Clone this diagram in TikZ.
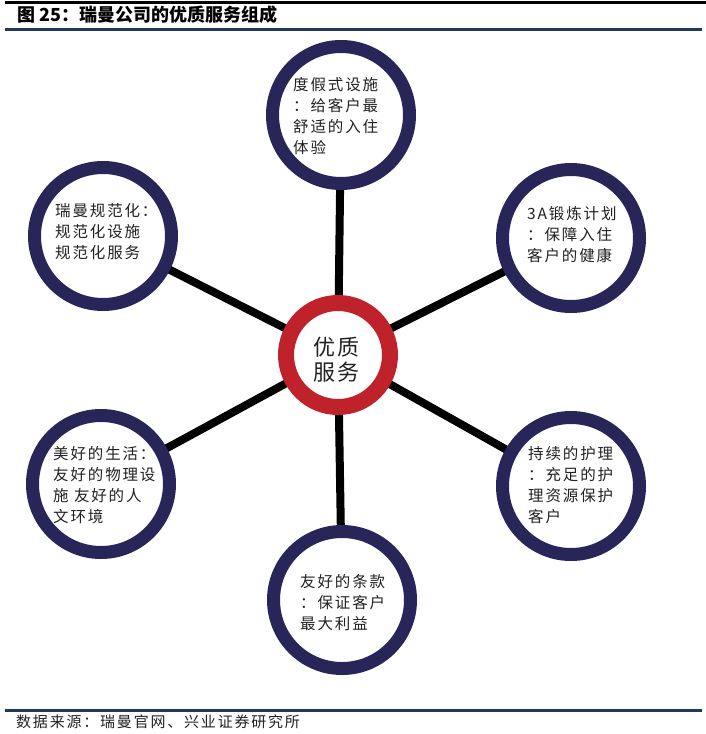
\documentclass[tikz,border=0pt]{standalone}
\usepackage{fontspec}
\setmainfont{Noto Sans CJK SC}
\newfontfamily\cjk{Noto Sans CJK SC}[LetterSpace=12]
\usetikzlibrary{backgrounds}
\definecolor{navy}{RGB}{40,38,88}
\definecolor{ringred}{RGB}{192,34,44}
\definecolor{rulecol}{RGB}{32,56,92}
\definecolor{txtcol}{RGB}{34,34,34}
\tikzset{
  outer/.style={circle,draw=navy,line width=13pt,fill=white,minimum size=137pt,inner sep=0pt},
  core/.style={circle,draw=ringred,line width=16pt,fill=white,minimum size=104pt,inner sep=0pt},
  txt/.style={anchor=west,align=left,inner sep=0pt,text=txtcol,font=\cjk\fontsize{15.5}{21}\selectfont},
  coretxt/.style={anchor=west,align=left,inner sep=0pt,text=txtcol,font=\cjk\fontsize{22}{25}\selectfont},
  spoke/.style={line width=8pt,black}
}
\begin{document}
\begin{tikzpicture}[x=1pt,y=-1pt]
\useasboundingbox (0,0) rectangle (706,734);
% circles
\node[core]  (c0) at (338,355) {};
\node[outer] (c1) at (341,115) {};
\node[outer] (c2) at (571,238) {};
\node[outer] (c3) at (571,486) {};
\node[outer] (c4) at (342,600) {};
\node[outer] (c5) at (101,484) {};
\node[outer] (c6) at (103,236) {};
% texts
\node[coretxt] (t0) at (313,360) {优质\\服务};
\node[txt] (t1) at (293,116) {度假式设施\\：给客户最\\舒适的入住\\体验};
\node[txt] (t2) at (527,235) {3A锻炼计划\\：保障入住\\客户的健康};
\node[txt] (t3) at (528,485) {持续的护理\\：充足的护\\理资源保护\\客户};
\node[txt] (t4) at (300,603) {友好的条款\\：保证客户\\最大利益};
\node[txt] (t5) at (53,485) {美好的生活：\\友好的物理设\\施 友好的人\\文环境};
\node[txt] (t6) at (55,232) {瑞曼规范化：\\规范化设施\\规范化服务};
% header / footer
\coordinate (h1) at (5,2);   \coordinate (h2) at (706,2);
\coordinate (h3) at (5,29);  \coordinate (h4) at (702,29);
\coordinate (f1) at (5,710); \coordinate (f2) at (702,710);
\draw[line width=3pt,black] (h1) -- (h2);
\draw[line width=3pt,rulecol] (h3) -- (h4);
\draw[line width=3pt,rulecol] (f1) -- (f2);
\node[anchor=west,inner sep=0pt,text=black,font=\bfseries\fontsize{18}{20}\selectfont] (title) at (17,15) {图\ 25：瑞曼公司的优质服务组成};
\node[anchor=west,inner sep=0pt,text=txtcol,font=\cjk\fontsize{15}{17}\selectfont] (src) at (16,722) {数据来源：瑞曼官网、兴业证券研究所};
\begin{scope}[on background layer]
\fill[white] (0,0) rectangle (706,734);
\foreach \k in {1,...,6} {\draw[spoke] (c0.center) -- (c\k.center);}
\end{scope}
\end{tikzpicture}
\end{document}
